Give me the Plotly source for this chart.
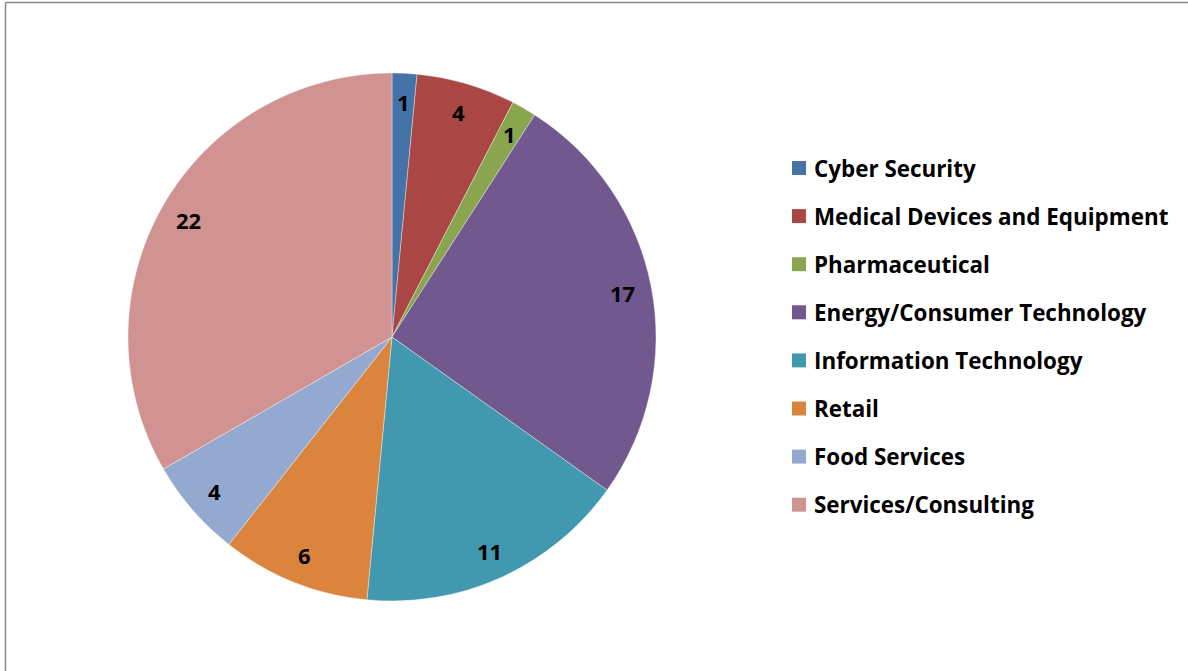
import numpy as np
import plotly.graph_objects as go

labels = ["Cyber Security", "Medical Devices and Equipment", "Pharmaceutical",
          "Energy/Consumer Technology", "Information Technology", "Retail",
          "Food Services", "Services/Consulting"]
values = [1, 4, 1, 17, 11, 6, 4, 22]
colors = ["#4572A7", "#AA4643", "#89A54E", "#71588F", "#4198AF", "#DB843D",
          "#93A9CF", "#D19392"]

W, H = 1188, 671
FONT = "Open Sans"

# pie geometry (pixels)
cx, cy, R = 392, 337, 264
dom_x = [(cx - R) / W, (cx + R) / W]
dom_y = [1 - (cy + R) / H, 1 - (cy - R) / H]

fig = go.Figure()
fig.add_trace(go.Pie(
    labels=labels, values=values, sort=False, direction="clockwise", rotation=0,
    marker=dict(colors=colors, line=dict(color="rgba(255,255,255,0.6)", width=0.6)),
    textinfo="none", domain=dict(x=dom_x, y=dom_y), showlegend=False,
))

annotations = []
shapes = []

# value labels near the rim (derived from the slice angles)
vals = np.array(values, dtype=float)
cum = np.cumsum(vals) - vals / 2
ang = np.pi / 2 - 2 * np.pi * cum / vals.sum()
rl = 0.89 * R
for v, a in zip(values, ang):
    px = cx + rl * np.cos(a)
    py = cy - rl * np.sin(a)
    annotations.append(dict(text=str(v), xref="paper", yref="paper",
                            x=px / W, y=1 - py / H, xanchor="center", yanchor="middle",
                            showarrow=False,
                            font=dict(family=FONT, size=22, color="#000000", weight="bold")))

# manual legend
lx_box, lx_text, ly0, dy, box = 792, 812, 168, 48.1, 14
for i, (lab, col) in enumerate(zip(labels, colors)):
    yc = ly0 + i * dy
    shapes.append(dict(type="rect", xref="paper", yref="paper",
                       x0=lx_box / W, x1=(lx_box + box) / W,
                       y0=1 - (yc + box / 2) / H, y1=1 - (yc - box / 2) / H,
                       fillcolor=col, line=dict(width=0)))
    annotations.append(dict(text=lab, xref="paper", yref="paper",
                            x=lx_text / W, y=1 - yc / H, xanchor="left", yanchor="middle",
                            showarrow=False,
                            font=dict(family=FONT, size=22.4, color="#000000", weight="bold")))

# chart border
shapes.append(dict(type="line", xref="paper", yref="paper", x0=5.5 / W, x1=1.02,
                   y0=1 - 2.5 / H, y1=1 - 2.5 / H, line=dict(color="#868686", width=1.5)))
shapes.append(dict(type="line", xref="paper", yref="paper", x0=5.5 / W, x1=5.5 / W,
                   y0=-0.02, y1=1 - 2.5 / H, line=dict(color="#868686", width=1.5)))

fig.update_layout(
    width=W, height=H, margin=dict(l=0, r=0, t=0, b=0),
    paper_bgcolor="white", plot_bgcolor="white",
    shapes=shapes, annotations=annotations,
)
fig.write_html("out.html")
